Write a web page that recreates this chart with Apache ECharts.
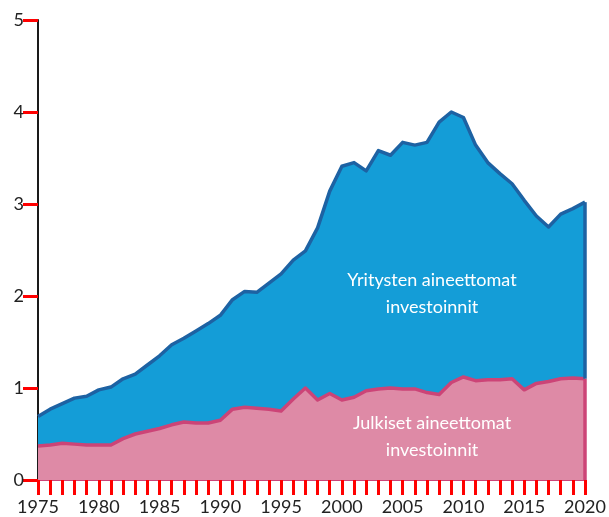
<!DOCTYPE html>
<html>
<head>
<meta charset="utf-8">
<script src="https://cdn.jsdelivr.net/npm/echarts@6/dist/echarts.min.js"></script>
<style>
  html, body { margin: 0; padding: 0; background: #fff; }
  #chart { width: 609px; height: 517px; }
</style>
</head>
<body>
<div id="chart"></div>
<script>
const years = [];
for (let y = 1975; y <= 2020; y++) years.push(String(y));

// yritysten + julkisten aineettomat investoinnit yhteensä (ylempi viiva)
const yritykset = [
  0.69, 0.77, 0.83, 0.89, 0.91, 0.98, 1.01, 1.10, 1.15, 1.25,
  1.35, 1.47, 1.54, 1.62, 1.70, 1.79, 1.96, 2.05, 2.04, 2.14,
  2.24, 2.39, 2.49, 2.74, 3.14, 3.41, 3.45, 3.36, 3.58, 3.53,
  3.67, 3.64, 3.67, 3.89, 4.00, 3.94, 3.64, 3.45, 3.33, 3.22,
  3.04, 2.87, 2.75, 2.89, 2.95, 3.02
];
const julkiset = [
  0.37, 0.38, 0.40, 0.39, 0.38, 0.38, 0.38, 0.45, 0.50, 0.53,
  0.56, 0.60, 0.63, 0.62, 0.62, 0.65, 0.77, 0.79, 0.78, 0.77,
  0.75, 0.88, 1.00, 0.87, 0.94, 0.87, 0.90, 0.97, 0.99, 1.00,
  0.99, 0.99, 0.95, 0.93, 1.06, 1.12, 1.08, 1.09, 1.09, 1.10,
  0.98, 1.05, 1.07, 1.10, 1.11, 1.10
];
const yTicks = [0, 1, 2, 3, 4, 5];

const blueFill = '#149dd7';
const blueLine = '#1d62a3';
const pinkFill = '#de8aa6';
const pinkLine = '#cc4477';
const tickColor = 'red';
const font = 'Lato, "Open Sans", sans-serif';

const chart = echarts.init(document.getElementById('chart'));
const last = years.length - 1;

chart.setOption({
  animation: false,
  grid: { left: 38, right: 24, top: 20, bottom: 37 },
  xAxis: {
    type: 'category',
    data: years,
    boundaryGap: false,
    axisLine: { show: true, lineStyle: { color: pinkLine, width: 2 } },
    axisTick: { show: true, interval: 0, length: 15, lineStyle: { color: tickColor, width: 3 } },
    axisLabel: { interval: 4, margin: 18, color: '#222', fontSize: 18, fontFamily: font }
  },
  yAxis: {
    type: 'value',
    min: yTicks[0],
    max: yTicks[yTicks.length - 1],
    interval: 1,
    axisLine: { show: true, lineStyle: { color: '#1a1a1a', width: 2 } },
    axisTick: { show: true, length: 15, lineStyle: { color: tickColor, width: 3 } },
    axisLabel: { margin: 14, color: '#222', fontSize: 18, fontFamily: font },
    splitLine: { show: false }
  },
  series: [
    {
      name: 'Yritysten aineettomat investoinnit',
      type: 'line',
      data: yritykset,
      symbol: 'none',
      lineStyle: { color: blueLine, width: 3.5, join: 'round' },
      areaStyle: { color: blueFill, opacity: 1 },
      markLine: {
        silent: true,
        symbol: 'none',
        label: { show: false },
        lineStyle: { color: blueLine, width: 3.5, type: 'solid' },
        data: [[
          { coord: [years[last], julkiset[last]] },
          { coord: [years[last], yritykset[last]] }
        ]]
      }
    },
    {
      name: 'Julkiset aineettomat investoinnit',
      type: 'line',
      data: julkiset,
      symbol: 'none',
      lineStyle: { color: pinkLine, width: 3.5, join: 'round' },
      areaStyle: { color: pinkFill, opacity: 1 },
      markLine: {
        silent: true,
        symbol: 'none',
        label: { show: false },
        lineStyle: { color: pinkLine, width: 3.5, type: 'solid' },
        data: [[
          { coord: [years[last], 0] },
          { coord: [years[last], julkiset[last]] }
        ]]
      }
    }
  ],
  graphic: [
    {
      type: 'text',
      z: 10,
      style: {
        x: 432, y: 294,
        text: 'Yritysten aineettomat\ninvestoinnit',
        fill: '#fff',
        font: '18px ' + font,
        lineHeight: 27,
        align: 'center',
        verticalAlign: 'middle'
      }
    },
    {
      type: 'text',
      z: 10,
      style: {
        x: 432, y: 437,
        text: 'Julkiset aineettomat\ninvestoinnit',
        fill: '#fff',
        font: '18px ' + font,
        lineHeight: 27,
        align: 'center',
        verticalAlign: 'middle'
      }
    }
  ]
});
</script>
</body>
</html>
